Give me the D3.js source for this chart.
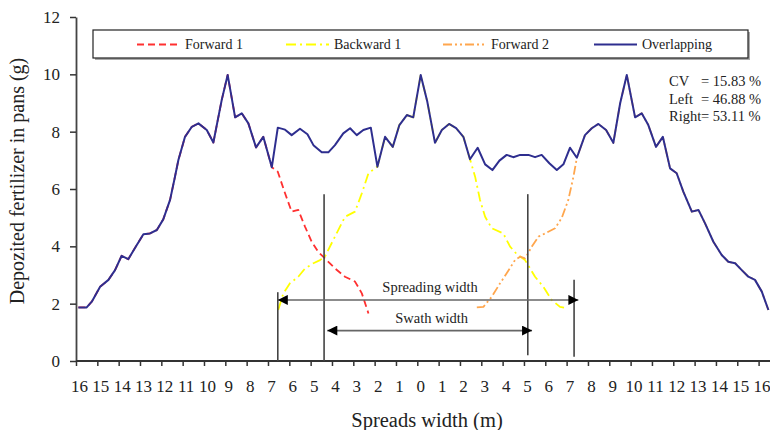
<!DOCTYPE html>
<html>
<head>
<meta charset="utf-8">
<script src="https://cdn.jsdelivr.net/npm/d3@7"></script>
<style>
  html, body { margin: 0; padding: 0; background: #fff; }
  svg { display: block; }
  text { font-family: "Liberation Serif", "DejaVu Serif", serif; fill: #222; }
</style>
</head>
<body>
<svg id="chart" width="770" height="430"></svg>
<script>
// ---------------- data ----------------
const xTickValues = [-16,-15,-14,-13,-12,-11,-10,-9,-8,-7,-6,-5,-4,-3,-2,-1,0,1,2,3,4,5,6,7,8,9,10,11,12,13,14,15,16];
const yTickValues = [0, 2, 4, 6, 8, 10, 12];

// Overlapping distribution [position (m), deposited fertilizer (g)]
const overlapping = [
  [-15.89,1.87],[-15.50,1.87],[-15.26,2.07],[-14.87,2.59],[-14.48,2.83],[-14.17,3.17],[-13.86,3.67],
  [-13.55,3.55],[-13.15,4.05],[-12.84,4.42],[-12.53,4.45],[-12.21,4.57],[-11.91,4.94],[-11.59,5.62],
  [-11.36,6.43],[-11.20,7.01],[-10.89,7.82],[-10.57,8.17],[-10.26,8.29],[-9.87,8.06],[-9.56,7.62],
  [-9.17,9.10],[-8.89,9.98],[-8.54,8.50],[-8.23,8.64],[-7.92,8.29],[-7.56,7.45],[-7.22,7.82],
  [-6.82,6.76],[-6.54,8.14],[-6.20,8.07],[-5.89,7.88],[-5.50,8.10],[-5.15,7.91],[-4.87,7.53],
  [-4.48,7.28],[-4.17,7.28],[-3.86,7.53],[-3.47,7.94],[-3.15,8.12],[-2.84,7.88],[-2.53,8.06],
  [-2.18,8.14],[-1.87,6.78],[-1.51,7.82],[-1.15,7.47],[-0.84,8.23],[-0.49,8.58],[-0.19,8.50],
  [0.16,9.98],[0.47,9.04],[0.83,7.61],[1.15,8.06],[1.49,8.27],[1.82,8.12],[2.16,7.82],
  [2.47,7.04],[2.83,7.44],[3.18,6.86],[3.52,6.66],[3.85,6.99],[4.19,7.19],[4.50,7.11],
  [4.82,7.19],[5.21,7.19],[5.52,7.11],[5.83,7.19],[6.19,6.90],[6.54,6.66],[6.85,6.86],
  [7.16,7.44],[7.48,7.09],[7.86,7.88],[8.18,8.12],[8.49,8.27],[8.85,8.06],[9.19,7.61],
  [9.51,8.99],[9.82,9.98],[10.21,8.50],[10.52,8.64],[10.83,8.23],[11.19,7.47],[11.51,7.82],
  [11.85,6.72],[12.16,6.55],[12.47,5.91],[12.87,5.21],[13.18,5.27],[13.49,4.80],[13.88,4.16],
  [14.27,3.70],[14.58,3.46],[14.90,3.41],[15.21,3.17],[15.52,2.94],[15.83,2.83],[16.15,2.42],
  [16.46,1.78]
];

// Forward 1: coincides with overlapping up to -6.82 m, then its own tail
const forward1Tail = [
  [-6.54,6.60],[-6.20,5.85],[-5.89,5.21],[-5.58,5.27],[-5.26,4.68],[-4.95,4.16],[-4.64,3.80],
  [-4.33,3.58],[-3.86,3.23],[-3.39,2.94],[-2.92,2.77],[-2.60,2.36],[-2.29,1.66]
];
// Backward 1: own rise, shared middle, own fall
const backward1Head = [
  [-6.52,1.78],[-6.28,2.36],[-5.97,2.71],[-5.58,2.94],[-5.26,3.23],[-4.87,3.41],[-4.56,3.52],
  [-4.33,3.64],[-3.86,4.34],[-3.39,5.03],[-2.92,5.21],[-2.60,5.85],[-2.29,6.55]
];
const backward1Tail = [
  [2.71,6.43],[2.94,5.62],[3.18,5.03],[3.49,4.63],[4.03,4.45],[4.35,3.99],[4.66,3.73],
  [5.05,3.52],[5.52,2.94],[5.91,2.59],[6.30,2.13],[6.69,1.89],[7.01,1.84]
];
// Forward 2: own rise, then coincides with overlapping
const forward2Head = [
  [2.79,1.87],[3.10,1.89],[3.49,2.24],[3.88,2.71],[4.19,3.06],[4.58,3.52],[4.82,3.64],
  [5.05,3.58],[5.37,3.99],[5.68,4.34],[5.99,4.45],[6.46,4.63],[6.77,4.99],[7.08,5.62],[7.32,6.43]
];

const forward1 = overlapping.slice(0, 29).concat(forward1Tail);
const backward1 = backward1Head.concat(overlapping.slice(43, 57), backward1Tail);
const forward2 = forward2Head.concat(overlapping.slice(71));

const seriesNames = ["Forward 1", "Backward 1", "Forward 2", "Overlapping"];

// Width markers (m) and their heights (g)
const spreadLeft = -6.54, spreadRight = 7.35;
const swathLeft = -4.37, swathRight = 5.18;
const spreadArrowLevel = 2.13, swathArrowLevel = 1.06;
const statLabels = ["CV", "Left", "Right"];
const statValues = ["= 15.83 %", "= 46.88 %", "= 53.11 %"];

// ---------------- drawing ----------------
const svg = d3.select("#chart");
const x = d3.scaleLinear().domain([-16, 16]).range([76, 758.6]);
const y = d3.scaleLinear().domain([0, 12]).range([361, 17]);

const styles = {
  "Forward 1":   { color: "#ff3030", dash: "7,4", width: 1.8 },
  "Backward 1":  { color: "#ffff00", dash: "10,4,2,4", width: 1.8 },
  "Forward 2":   { color: "#ffa64d", dash: "9,3,2,3,2,3", width: 1.8 },
  "Overlapping": { color: "#2e2e8f", dash: null, width: 2 }
};

const line = d3.line().x(d => x(d[0])).y(d => y(d[1]));

// axes
const yAxis = d3.axisLeft(y).tickValues(yTickValues).tickSize(6).tickPadding(10).tickSizeOuter(0);
const gy = svg.append("g").attr("transform", `translate(${x(-16)},0)`).call(yAxis);
gy.select(".domain").attr("stroke", "#444").attr("stroke-width", 1.8);
gy.selectAll(".tick line").attr("stroke", "#333").attr("stroke-width", 1.5);
gy.selectAll(".tick text").attr("font-size", 17).attr("font-family", "Liberation Serif").attr("fill", "#222");

const xAxis = d3.axisBottom(x).tickValues(xTickValues).tickSize(5).tickSizeOuter(0)
  .tickFormat(d => Math.abs(d));
const gx = svg.append("g").attr("transform", `translate(0,${y(0)})`).call(xAxis);
gx.select(".domain").remove();
gx.append("line").attr("x1", x(-16)).attr("x2", 770).attr("y1", 0).attr("y2", 0)
  .attr("stroke", "#333").attr("stroke-width", 1.8);
gx.selectAll(".tick line").attr("stroke", "#333").attr("stroke-width", 1.5);
gx.selectAll(".tick text").attr("font-size", 17).attr("font-family", "Liberation Serif")
  .attr("fill", "#222").attr("dy", 0).attr("y", 31).attr("dx", 3);

// axis titles
svg.append("text").attr("transform", `translate(24,181) rotate(-90)`)
  .attr("text-anchor", "middle").attr("font-size", 20).text("Depozited fertilizer in pans (g)");
svg.append("text").attr("x", 427).attr("y", 427).attr("text-anchor", "middle")
  .attr("font-size", 20.5).text("Spreads width (m)");

// series
const data = { "Forward 1": forward1, "Backward 1": backward1, "Forward 2": forward2, "Overlapping": overlapping };
["Backward 1", "Forward 2", "Forward 1", "Overlapping"].forEach(name => {
  const s = styles[name];
  svg.append("path").datum(data[name]).attr("d", line)
    .attr("fill", "none").attr("stroke", s.color).attr("stroke-width", s.width)
    .attr("stroke-dasharray", s.dash).attr("stroke-linejoin", "round");
});

// width markers
const vlines = [
  { x: spreadLeft, y0: 0, y1: 2.40 },
  { x: swathLeft, y0: 0, y1: 5.82 },
  { x: swathRight, y0: 0.2, y1: 5.82 },
  { x: spreadRight, y0: 0.15, y1: 2.83 }
];
svg.selectAll(".vline").data(vlines).enter().append("line")
  .attr("x1", d => x(d.x)).attr("x2", d => x(d.x))
  .attr("y1", d => y(d.y0)).attr("y2", d => y(d.y1))
  .attr("stroke", "#444").attr("stroke-width", 1.6);

const defs = svg.append("defs");
defs.append("marker").attr("id", "ah").attr("viewBox", "0 0 10 10").attr("refX", 10).attr("refY", 5)
  .attr("markerWidth", 11).attr("markerHeight", 10).attr("markerUnits", "userSpaceOnUse")
  .attr("orient", "auto-start-reverse")
  .append("path").attr("d", "M0,0 L10,5 L0,10 Z").attr("fill", "#000");

const arrows = [
  { x0: spreadLeft, x1: spreadRight + 0.2, lvl: spreadArrowLevel, label: "Spreading width", ly: 2.42 },
  { x0: swathLeft + 0.15, x1: swathRight + 0.2, lvl: swathArrowLevel, label: "Swath width", ly: 1.33 }
];
arrows.forEach(a => {
  svg.append("line").attr("x1", x(a.x0)).attr("x2", x(a.x1))
    .attr("y1", y(a.lvl)).attr("y2", y(a.lvl))
    .attr("stroke", "#666").attr("stroke-width", 1.6)
    .attr("marker-start", "url(#ah)").attr("marker-end", "url(#ah)");
  svg.append("text").attr("x", (x(a.x0) + x(a.x1)) / 2 + 2).attr("y", y(a.ly))
    .attr("text-anchor", "middle").attr("font-size", 14.5).text(a.label);
});

// legend
const lg = svg.append("g");
lg.append("rect").attr("x", 95).attr("y", 32).attr("width", 655).attr("height", 28).attr("fill", "#aaa");
lg.append("rect").attr("x", 93).attr("y", 30).attr("width", 655).attr("height", 28)
  .attr("fill", "#fff").attr("stroke", "#222").attr("stroke-width", 1.2);
const legendX = [137, 286, 443, 594];
seriesNames.forEach((name, i) => {
  const s = styles[name];
  lg.append("line").attr("x1", legendX[i]).attr("x2", legendX[i] + 43).attr("y1", 44.5).attr("y2", 44.5)
    .attr("stroke", s.color).attr("stroke-width", s.width).attr("stroke-dasharray", s.dash);
  lg.append("text").attr("x", legendX[i] + 48).attr("y", 49).attr("font-size", 14).text(name);
});

// statistics
statLabels.forEach((lab, i) => {
  const t = svg.append("text").attr("y", 86 + i * 17.7).attr("font-size", 14.5);
  t.append("tspan").attr("x", 669).text(lab);
  t.append("tspan").attr("x", 701).text(statValues[i]);
});
</script>
</body>
</html>
